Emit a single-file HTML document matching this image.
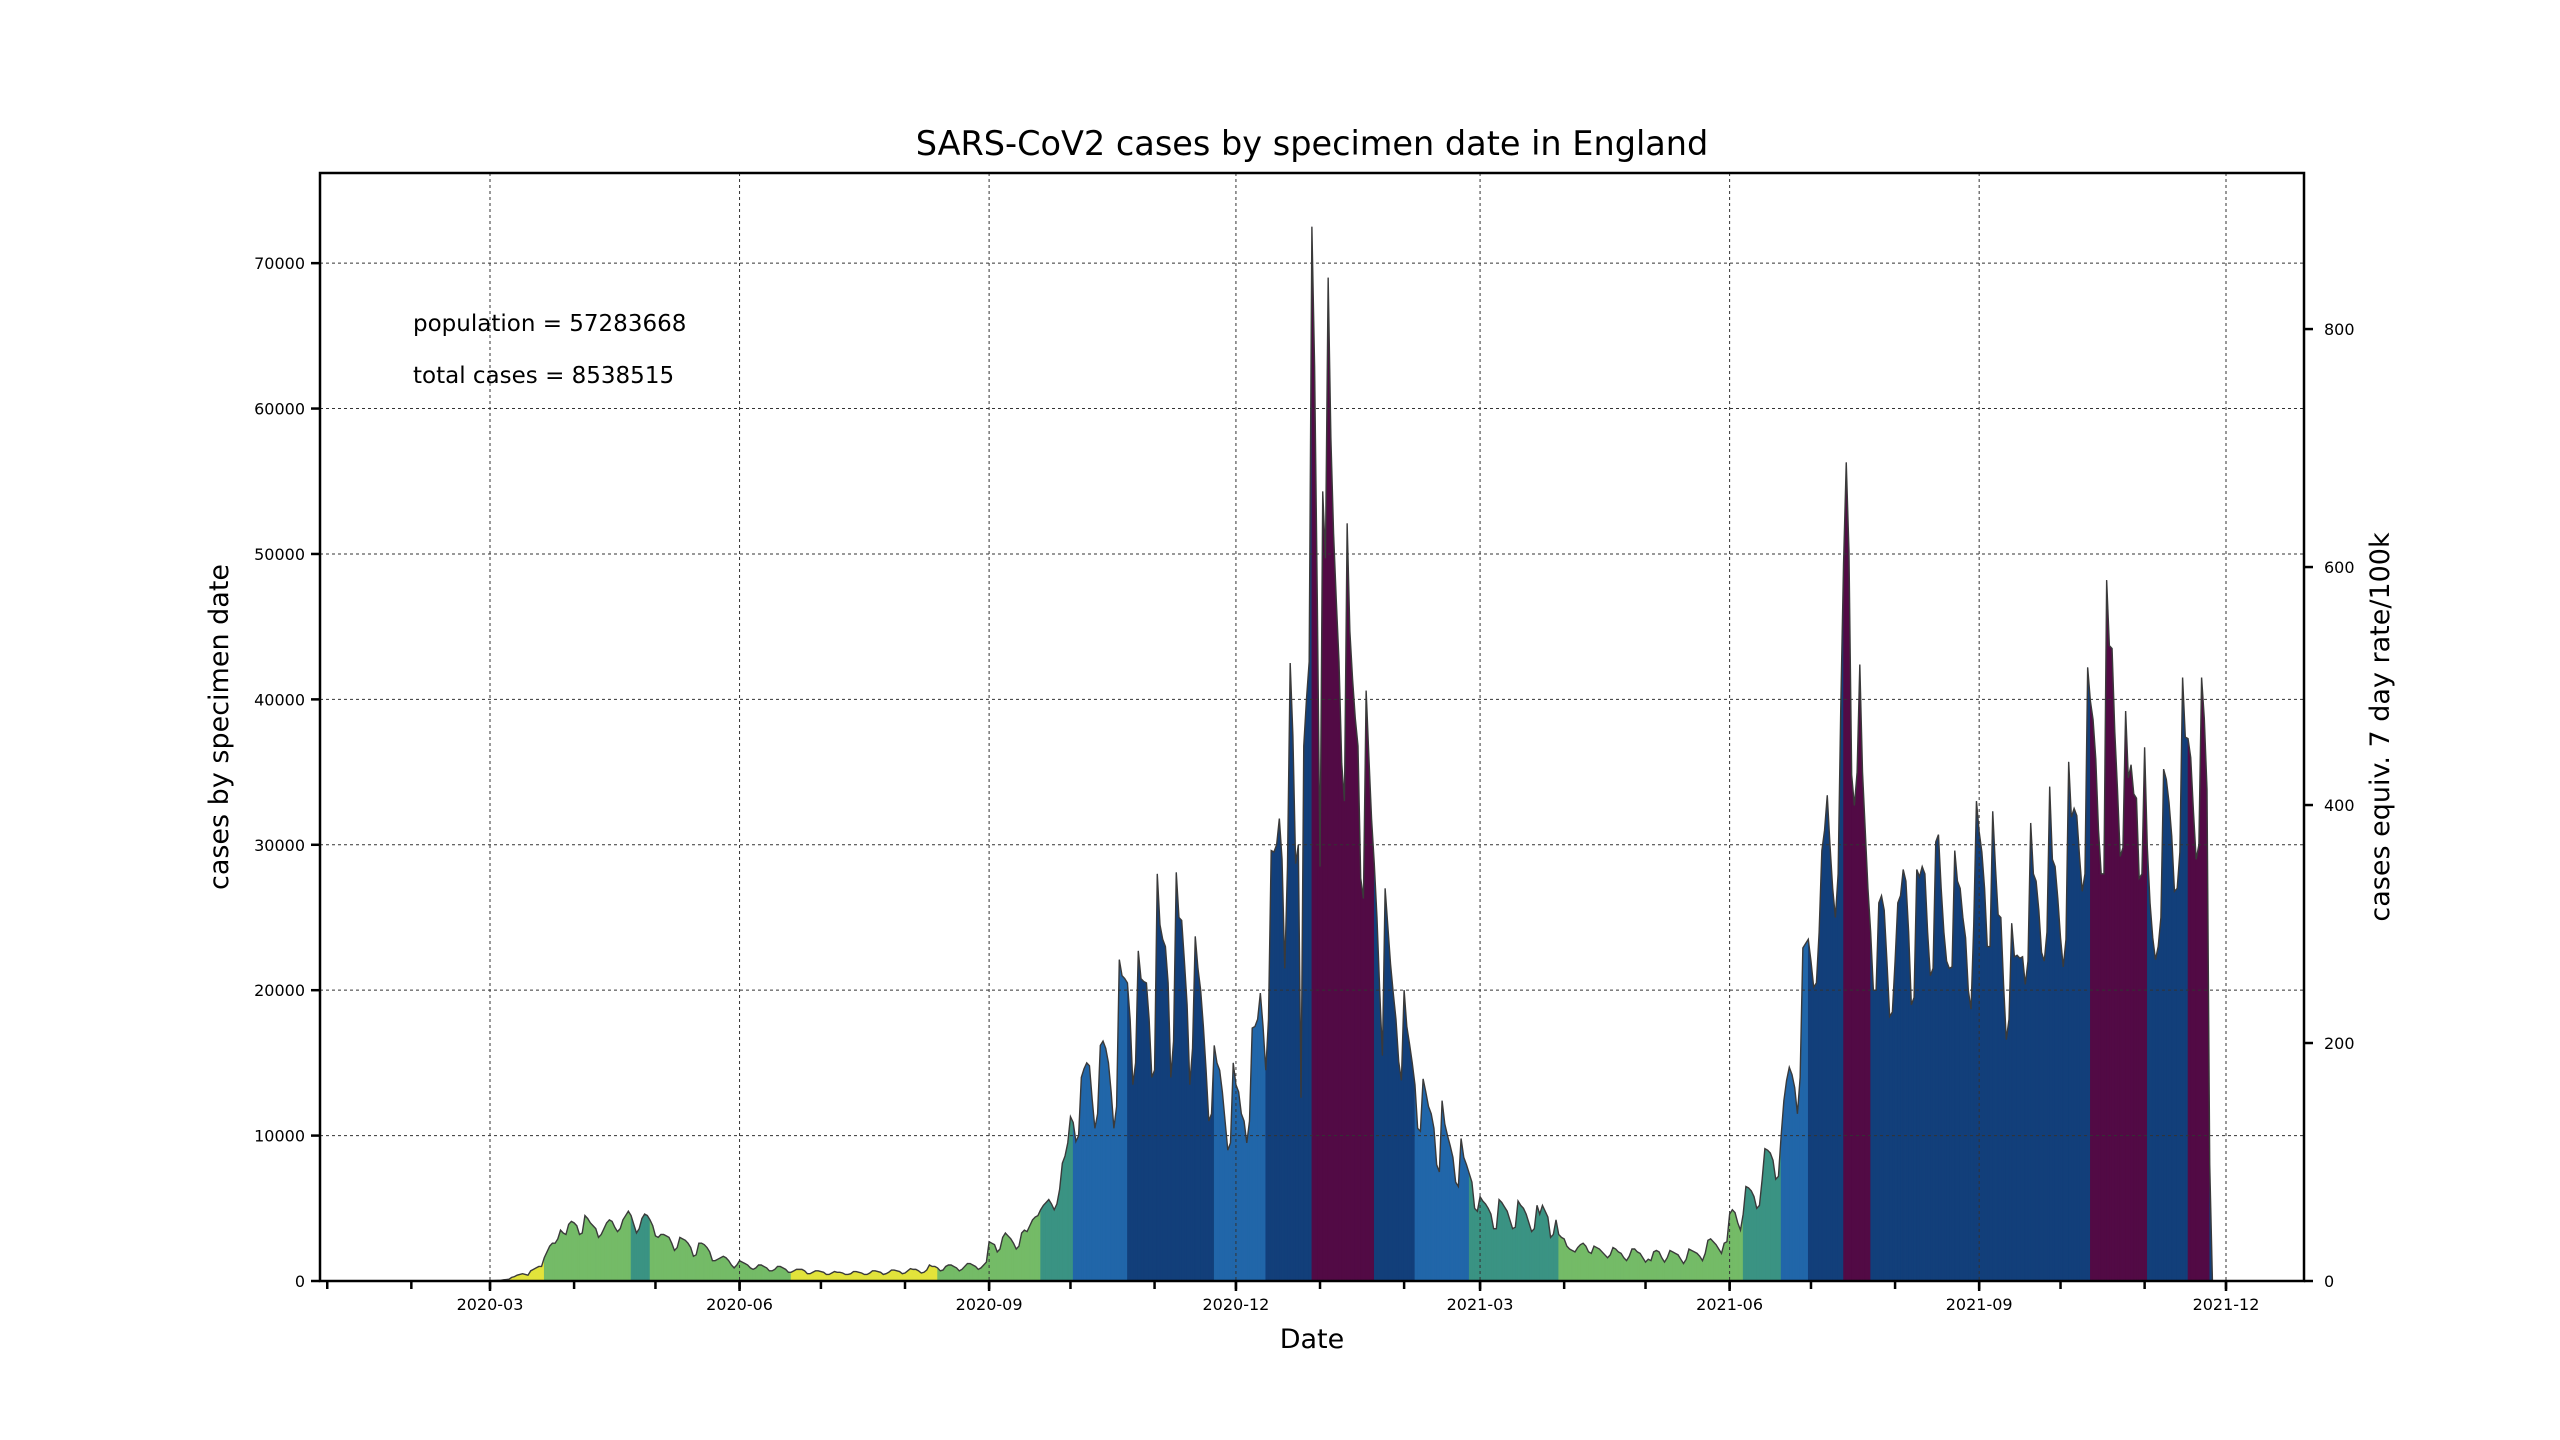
<!DOCTYPE html>
<html><head><meta charset="utf-8"><title>SARS-CoV2 cases by specimen date in England</title>
<style>
html,body{margin:0;padding:0;background:#fff;}
svg{display:block;font-family:"DejaVu Sans","Liberation Sans",sans-serif;}
</style></head>
<body>
<svg id="chart" xmlns="http://www.w3.org/2000/svg" width="2560" height="1440" viewBox="0 0 2560 1440">
<rect x="0" y="0" width="2560" height="1440" fill="#fff"/>
<g id="fills"></g>
<g id="line"></g>
<g id="grid"></g>
<g id="axes"></g>
<text x="1312" y="155" font-size="33.5" text-anchor="middle" fill="#000">SARS-CoV2 cases by specimen date in England</text>
<text x="413" y="331" font-size="23" fill="#000">population = 57283668</text>
<text x="413" y="383" font-size="23" fill="#000">total cases = 8538515</text>
<text x="1312" y="1348" font-size="27" text-anchor="middle" fill="#000">Date</text>
<text transform="translate(228,727) rotate(-90)" font-size="27" text-anchor="middle" fill="#000">cases by specimen date</text>
<text transform="translate(2389,727) rotate(-90)" font-size="27" text-anchor="middle" fill="#000">cases equiv. 7 day rate/100k</text>
</svg>
<script>
// daily cases (thousands), weekly rows Mon..Sun, first day = 2020-03-02
const weekRows = [
[0.02,0.03,0.04,0.05,0.08,0.10,0.12],
[0.25,0.3,0.4,0.45,0.5,0.45,0.4],
[0.7,0.8,0.9,1.0,1.0,1.6,2.0],
[2.4,2.6,2.6,2.9,3.5,3.3,3.2],
[3.9,4.1,4.0,3.8,3.2,3.3,4.5],
[4.3,4.0,3.8,3.6,3.0,3.2,3.6],
[4.0,4.2,4.1,3.7,3.4,3.6,4.2],
[4.5,4.8,4.5,3.9,3.3,3.6,4.3],
[4.6,4.5,4.2,3.8,3.1,3.0,3.2],
[3.2,3.1,3.0,2.6,2.1,2.3,3.0],
[2.9,2.8,2.6,2.3,1.7,1.8,2.6],
[2.6,2.5,2.3,2.0,1.4,1.4,1.5],
[1.6,1.7,1.6,1.4,1.1,0.9,1.1],
[1.4,1.3,1.2,1.1,0.9,0.8,0.9],
[1.1,1.1,1.0,0.9,0.7,0.7,0.8],
[1.0,1.0,0.9,0.8,0.6,0.6,0.7],
[0.8,0.8,0.8,0.7,0.5,0.5,0.6],
[0.7,0.7,0.65,0.6,0.45,0.45,0.55],
[0.65,0.6,0.6,0.55,0.45,0.45,0.5],
[0.65,0.65,0.6,0.55,0.45,0.45,0.55],
[0.7,0.7,0.65,0.6,0.45,0.5,0.6],
[0.75,0.75,0.7,0.65,0.5,0.55,0.7],
[0.85,0.8,0.8,0.7,0.55,0.6,0.75],
[1.1,1.0,1.0,0.9,0.7,0.75,1.0],
[1.1,1.1,1.0,0.9,0.7,0.8,1.0],
[1.2,1.2,1.1,1.0,0.8,0.9,1.1],
[1.3,2.7,2.6,2.5,2.0,2.2,3.0],
[3.3,3.1,2.9,2.6,2.2,2.4,3.3],
[3.5,3.4,3.8,4.2,4.4,4.5,4.9],
[5.2,5.4,5.6,5.3,4.9,5.3,6.3],
[8.1,8.6,9.5,11.3,10.9,9.6,10.0],
[14.0,14.6,15.0,14.8,12.5,10.5,11.5],
[16.2,16.5,16.0,15.0,13.0,10.5,12.0],
[22.1,21.0,20.8,20.5,18.0,13.5,15.0],
[22.7,20.8,20.6,20.5,18.0,14.0,14.5],
[28.0,24.5,23.5,23.0,20.5,14.0,16.5],
[28.1,25.0,24.8,22.0,19.0,13.5,16.0],
[23.7,21.5,20.0,17.5,14.5,11.0,11.5],
[16.2,15.0,14.5,13.0,11.0,9.0,9.5],
[15.0,13.5,13.0,11.5,11.0,9.5,11.0],
[17.4,17.5,18.0,19.8,17.5,14.5,18.0],
[29.6,29.5,30.0,31.8,29.0,21.5,28.5],
[42.5,37.5,28.7,30.0,12.6,36.8,40.0],
[42.6,72.5,62.9,46.8,28.5,54.3,49.7],
[69.0,58.0,51.4,46.8,42.6,35.6,33.0],
[52.1,44.7,41.4,38.7,36.8,27.7,26.3],
[40.6,36.1,31.8,28.7,25.0,20.0,15.5],
[27.0,24.4,21.8,19.8,18.0,15.1,13.8],
[20.0,17.5,16.3,15.0,13.5,10.5,10.3],
[13.9,13.0,12.0,11.5,10.5,8.0,7.5],
[12.4,10.8,10.0,9.3,8.5,6.8,6.5],
[9.8,8.5,8.0,7.4,6.8,5.0,4.8],
[5.8,5.5,5.3,5.0,4.6,3.6,3.6],
[5.6,5.4,5.1,4.8,4.2,3.6,3.7],
[5.5,5.2,5.0,4.6,4.0,3.4,3.6],
[5.2,4.6,5.2,4.8,4.4,3.0,3.2],
[4.2,3.2,3.0,2.9,2.4,2.2,2.1],
[2.0,2.3,2.5,2.6,2.4,2.0,1.9],
[2.4,2.3,2.2,2.0,1.8,1.6,1.8],
[2.3,2.2,2.0,1.9,1.6,1.4,1.7],
[2.2,2.2,2.0,1.9,1.6,1.3,1.5],
[1.4,2.0,2.1,2.0,1.6,1.3,1.6],
[2.1,2.0,1.9,1.8,1.5,1.2,1.5],
[2.2,2.1,2.0,1.9,1.7,1.4,1.9],
[2.8,2.9,2.7,2.5,2.2,1.9,2.6],
[2.7,4.6,4.9,4.7,4.0,3.5,4.6],
[6.5,6.4,6.2,5.8,5.0,5.2,7.0],
[9.1,9.0,8.8,8.3,7.0,7.2,10.0],
[12.4,13.8,14.7,14.2,13.3,11.5,14.0],
[22.9,23.2,23.5,22.0,20.2,20.5,24.0],
[29.6,31.0,33.4,30.0,27.0,25.0,28.0],
[39.7,49.3,56.3,50.2,34.8,32.7,35.0],
[42.4,35.0,31.0,27.0,24.0,20.0,20.0],
[26.0,26.5,25.5,22.0,18.2,18.5,22.0],
[26.0,26.5,28.3,27.5,24.0,19.0,19.5],
[28.3,27.8,28.5,28.0,24.0,21.0,21.5],
[30.2,30.7,27.0,24.0,22.0,21.5,21.6],
[29.6,27.5,27.0,25.0,23.6,20.0,18.7],
[24.5,33.0,30.9,29.5,27.0,23.0,23.0],
[32.3,28.5,25.2,25.0,20.4,16.6,18.0],
[24.6,22.3,22.4,22.2,22.3,20.4,22.0],
[31.5,28.0,27.5,25.5,22.6,22.0,24.0],
[34.0,29.0,28.5,26.3,23.6,21.6,23.5],
[35.7,31.9,32.5,32.0,29.2,26.8,28.0],
[42.2,39.9,38.6,35.9,31.0,28.0,28.0],
[48.2,43.7,43.5,37.8,33.8,29.2,29.8],
[39.2,34.6,35.5,33.5,33.2,27.7,28.0],
[36.7,29.8,26.0,23.6,22.1,23.0,25.0],
[35.2,34.5,32.9,30.6,26.8,27.0,29.5],
[41.5,37.4,37.3,36.0,32.3,29.0,30.0],
[41.5,38.7,33.8,8.0,0.0]
];
const yTickValues = [0,10000,20000,30000,40000,50000,60000,70000];
const rightTickValues = [0,200,400,600,800];
const xTickLabels = ["2020-03","2020-06","2020-09","2020-12","2021-03","2021-06","2021-09","2021-12"];
const rateThresholds = [10,50,100,200,400];
const rateColors = ["#e2e33b","#74bb67","#3a9383","#2166a9","#123f7a","#520a45"];
const population = 57283668;

const NS = "http://www.w3.org/2000/svg";
const L = 320, R = 2304, T = 173, B = 1281;
const epoch = Date.UTC(2020,2,1);
const pxPerDay = 1736/640;
function xScale(day){ return 490 + day*pxPerDay; }
function yScale(v){ return B - v*(B-T)/76200; }
function dayOf(str){ const p = str.split("-"); return (Date.UTC(+p[0],+p[1]-1,1)-epoch)/86400000; }
function mk(tag, attrs, parent){ const e=document.createElementNS(NS,tag); for(const k in attrs) e.setAttribute(k,attrs[k]); parent.appendChild(e); return e; }

const cases = [].concat(...weekRows).map(v=>v*1000);
const rate = cases.map((v,i)=>{ let s=0,n=0; for(let j=Math.max(0,i-6);j<=i;j++){s+=cases[j];n++;} return s/n*7*1e5/population; });
function colorFor(r){ let k=0; while(k<rateThresholds.length && r>=rateThresholds[k]) k++; return rateColors[k]; }

const fills = document.getElementById("fills");
for(let i=0;i<cases.length-1;i++){
  const x0=xScale(i+1), x1=xScale(i+2);
  const p = mk("polygon",{points:`${x0},${B} ${x0},${yScale(cases[i])} ${x1},${yScale(cases[i+1])} ${x1},${B}`, fill:colorFor(rate[i]), stroke:colorFor(rate[i]), "stroke-width":0.6}, fills);
  
  
}
const lineG = document.getElementById("line");
const pl = mk("polyline",{points:cases.map((v,i)=>`${xScale(i+1)},${yScale(v)}`).join(" "), fill:"none", stroke:"#3a3a3a", "stroke-width":1.4}, lineG);



const grid = document.getElementById("grid");
const axes = document.getElementById("axes");
yTickValues.forEach(v=>{
  const y=yScale(v);
  if(v>0){ const g=mk("line",{x1:L,x2:R,y1:y,y2:y,stroke:"#333","stroke-width":1,"stroke-dasharray":"3,3"},grid);
    
     }
  const t=mk("line",{x1:L-9,x2:L,y1:y,y2:y,stroke:"#000","stroke-width":2.5},axes);
  
  
  const tx=mk("text",{x:L-15,y:y+6,"font-size":16,"text-anchor":"end",fill:"#000"},axes);
  tx.textContent=String(v);
  
  
});
rightTickValues.forEach(r=>{
  const y=yScale(r*population/1e5/7);
  const t=mk("line",{x1:R,x2:R+9,y1:y,y2:y,stroke:"#000","stroke-width":2.5},axes);
  
  
  const tx=mk("text",{x:R+20,y:y+6,"font-size":16,fill:"#000"},axes);
  tx.textContent=String(r);
  
  
});
for(let yr=2020; yr<=2021; yr++){ for(let m=1;m<=12;m++){
  const x=xScale(dayOf(yr+"-"+m));
  if(x<L||x>R) continue;
  const t=mk("line",{x1:x,x2:x,y1:B,y2:B+8,stroke:"#000","stroke-width":2.5},axes);
  
  
}}
xTickLabels.forEach(s=>{
  const x=xScale(dayOf(s));
  const g=mk("line",{x1:x,x2:x,y1:T,y2:B,stroke:"#333","stroke-width":1,"stroke-dasharray":"3,3"},grid);
  
  
  const t=mk("line",{x1:x,x2:x,y1:B,y2:B+10,stroke:"#000","stroke-width":2.5},axes);
  
  
  const tx=mk("text",{x:x,y:B+29,"font-size":16,"text-anchor":"middle",fill:"#000"},axes);
  tx.textContent=s;
  
  
});
const frame=mk("rect",{x:L,y:T,width:R-L,height:B-T,fill:"none",stroke:"#000","stroke-width":2.5},axes);


</script>
</body></html>
